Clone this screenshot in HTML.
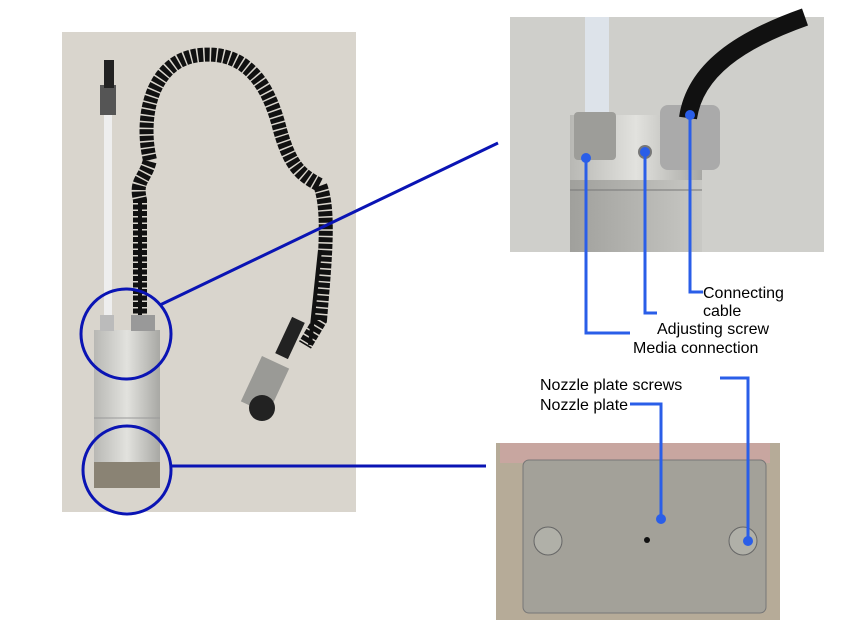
<!DOCTYPE html>
<html><head><meta charset="utf-8"><style>
html,body{margin:0;padding:0;background:#fff;width:857px;height:630px;overflow:hidden}
text{font-family:"Liberation Sans",sans-serif;font-size:16px;fill:#000}
</style></head><body>
<svg width="857" height="630" viewBox="0 0 857 630" xmlns="http://www.w3.org/2000/svg">
<defs>
<linearGradient id="metal" x1="0" x2="1"><stop offset="0" stop-color="#b8b8b4"/><stop offset="0.5" stop-color="#e2e2de"/><stop offset="1" stop-color="#a8a8a4"/></linearGradient>
<linearGradient id="side" x1="0" x2="1"><stop offset="0" stop-color="#a0a09c"/><stop offset="1" stop-color="#c8c8c4"/></linearGradient>
</defs>
<rect x="62" y="32" width="294" height="480" fill="#d9d5cd"/>
<rect x="104" y="110" width="8" height="215" fill="#eeeeee"/>
<rect x="100" y="85" width="16" height="30" fill="#555"/>
<rect x="104" y="60" width="10" height="28" fill="#222"/>
<path d="M140 320 L140 200 C135 180 145 180 150 160 C140 120 150 60 200 55 C250 50 270 90 280 130 C290 165 300 175 320 185 C330 210 325 260 320 320 L305 345" fill="none" stroke="#111" stroke-width="14" stroke-dasharray="5 1.5"/>
<path d="M140 320 L140 200" stroke="#111" stroke-width="4"/>
<path d="M320 250 L310 345" stroke="#111" stroke-width="4"/>
<rect x="250" y="360" width="30" height="50" fill="#9a9a96" transform="rotate(25 265 385)"/>
<circle cx="262" cy="408" r="13" fill="#222"/>
<rect x="283" y="318" width="14" height="40" fill="#222" transform="rotate(25 290 338)"/>
<rect x="94" y="330" width="66" height="158" fill="url(#metal)"/>
<rect x="94" y="462" width="66" height="26" fill="#8a8374"/>
<rect x="100" y="315" width="14" height="16" fill="#bbb"/>
<rect x="131" y="315" width="24" height="16" fill="#999"/>
<line x1="94" y1="418" x2="160" y2="418" stroke="#999" stroke-width="1"/>
<circle cx="126" cy="334" r="45" fill="none" stroke="#0a14b4" stroke-width="3"/>
<circle cx="127" cy="470" r="44" fill="none" stroke="#0a14b4" stroke-width="3"/>
<line x1="160" y1="305" x2="498" y2="143" stroke="#0a14b4" stroke-width="3"/>
<line x1="172" y1="466" x2="486" y2="466" stroke="#0a14b4" stroke-width="3"/>
<rect x="510" y="17" width="314" height="235" fill="#cfcfcb"/>
<rect x="570" y="115" width="132" height="137" fill="url(#metal)"/>
<rect x="570" y="180" width="132" height="72" fill="url(#side)"/>
<line x1="570" y1="190" x2="702" y2="190" stroke="#777" stroke-width="1"/>
<rect x="585" y="17" width="24" height="100" fill="#dde3ea"/>
<rect x="574" y="112" width="42" height="48" fill="#9d9d99" rx="4"/>
<rect x="660" y="105" width="60" height="65" fill="#aaa" rx="8"/>
<path d="M688 118 C695 70 740 40 805 17" fill="none" stroke="#111" stroke-width="18"/>
<circle cx="645" cy="152" r="7" fill="#777"/>
<g stroke="#2a5ee8" stroke-width="3" fill="none">
<polyline points="586,158 586,333 630,333"/>
<polyline points="645,152 645,313 657,313"/>
<polyline points="690,115 690,292 703,292"/>
</g>
<g fill="#2a5ee8"><circle cx="586" cy="158" r="5"/><circle cx="645" cy="152" r="5"/><circle cx="690" cy="115" r="5"/></g>
<text x="703" y="298">Connecting</text>
<text x="703" y="316">cable</text>
<text x="657" y="334">Adjusting screw</text>
<text x="633" y="353">Media connection</text>
<rect x="496" y="443" width="284" height="177" fill="#b6ab98"/>
<rect x="500" y="443" width="270" height="20" fill="#c8a6a0"/>
<rect x="523" y="460" width="243" height="153" rx="6" fill="#a3a199" stroke="#777"/>
<circle cx="548" cy="541" r="14" fill="#b0b0a8" stroke="#666"/>
<circle cx="743" cy="541" r="14" fill="#b0b0a8" stroke="#666"/>
<circle cx="647" cy="540" r="3" fill="#111"/>
<g stroke="#2a5ee8" stroke-width="3" fill="none">
<polyline points="630,404 661,404 661,519"/>
<polyline points="720,378 748,378 748,541"/>
</g>
<g fill="#2a5ee8"><circle cx="661" cy="519" r="5"/><circle cx="748" cy="541" r="5"/></g>
<text x="540" y="390">Nozzle plate screws</text>
<text x="540" y="410">Nozzle plate</text>
</svg>
</body></html>
